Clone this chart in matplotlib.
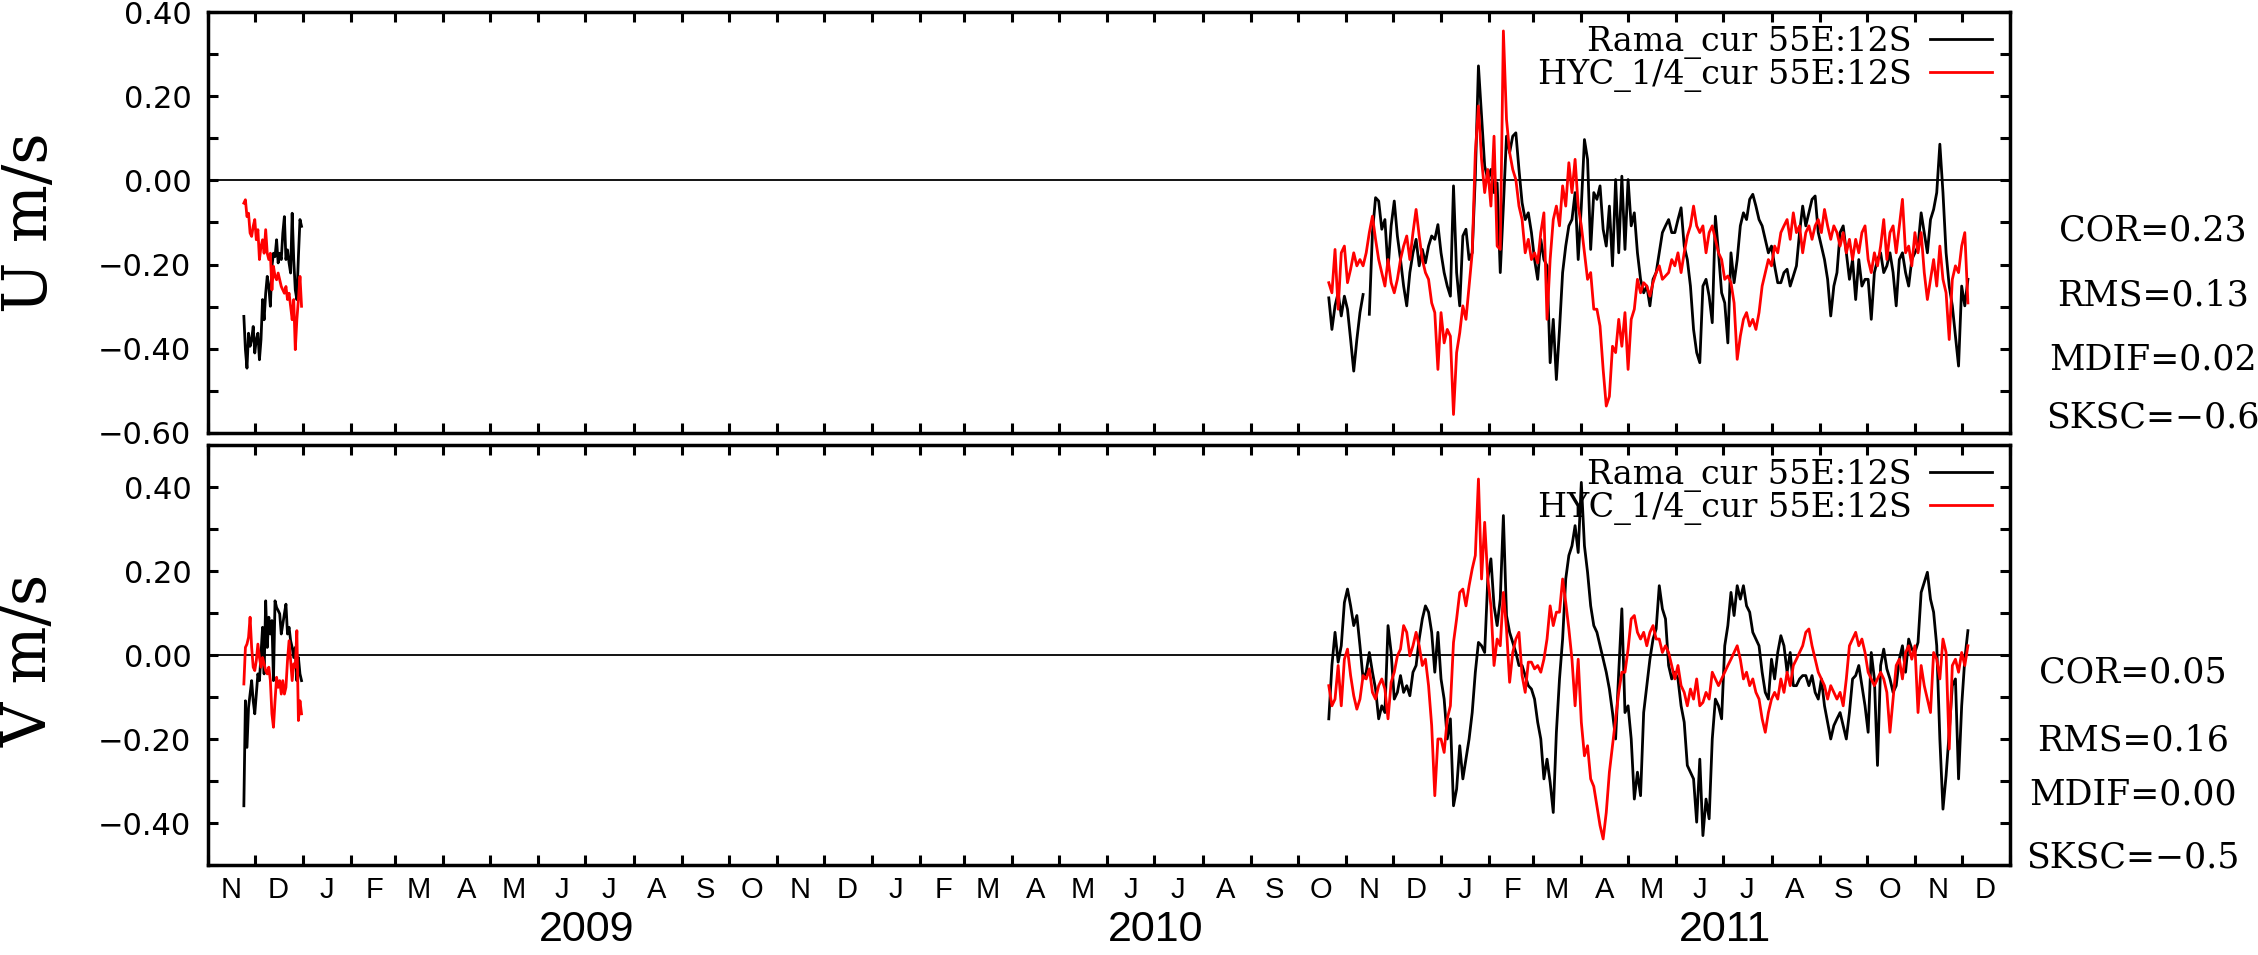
import numpy as np
import matplotlib
matplotlib.use("Agg")
import matplotlib.pyplot as plt
import matplotlib.dates as mdates
from matplotlib.ticker import MultipleLocator, FixedLocator, FuncFormatter

# ---------------- data ----------------
seg1_start = "2008-11-24"   # daily values
seg2_start = "2010-10-21"   # values every 2 days

u_rama_2008 = [-0.323, -0.402, -0.446, -0.363, -0.394, -0.378, -0.347, -0.410, -0.378, -0.363,
               -0.426, -0.378, -0.283, -0.331, -0.268, -0.228, -0.252, -0.299, -0.204, -0.173,
               -0.181, -0.141, -0.196, -0.173, -0.188, -0.125, -0.086, -0.188, -0.165, -0.196,
               -0.220, -0.078, -0.188, -0.260, -0.283, -0.181, -0.093, -0.109]
u_hyc_2008 = [-0.054, -0.046, -0.086, -0.078, -0.125, -0.133, -0.109, -0.093, -0.141, -0.117,
              -0.188, -0.157, -0.141, -0.173, -0.117, -0.173, -0.188, -0.173, -0.260, -0.204,
              -0.228, -0.236, -0.220, -0.236, -0.252, -0.260, -0.268, -0.252, -0.283, -0.268,
              -0.299, -0.331, -0.283, -0.402, -0.331, -0.283, -0.228, -0.299]
v_rama_2008 = [-0.359, -0.109, -0.220, -0.125, -0.093, -0.061, -0.109, -0.140, -0.093, -0.045,
               -0.061, 0.002, 0.066, -0.045, 0.129, 0.018, 0.090, 0.050, 0.082, -0.061,
               0.129, 0.113, 0.106, 0.098, 0.050, 0.074, 0.098, 0.121, 0.050, 0.066,
               0.034, 0.018, -0.006, 0.018, -0.061, -0.006, -0.045, -0.061]
v_hyc_2008 = [-0.069, 0.018, 0.026, 0.042, 0.090, 0.018, -0.029, -0.037, -0.013, 0.026,
              -0.006, -0.029, -0.006, -0.021, -0.037, -0.045, -0.029, -0.061, -0.140, -0.172,
              -0.109, -0.053, -0.077, -0.061, -0.093, -0.061, -0.093, -0.077, -0.013, 0.034,
              -0.013, -0.061, -0.021, -0.029, 0.058, -0.156, -0.109, -0.140]

nan = float("nan")
u_rama_2011 = [
    -0.279, -0.354, -0.298, -0.267, -0.322, -0.275, -0.306, -0.378, -0.453, -0.378,
    -0.314, -0.271, nan, -0.318, -0.124, -0.041, -0.049, -0.116, -0.093, -0.211,
    -0.108, -0.049, -0.132, -0.188, -0.251, -0.298, -0.219, -0.172, -0.140, -0.203,
    -0.164, -0.196, -0.156, -0.132, -0.140, -0.105, -0.172, -0.219, -0.251, -0.275,
    -0.013, -0.219, -0.298, -0.132, -0.116, -0.188, -0.172, 0.010, 0.272, 0.153,
    0.034, 0.002, 0.026, -0.029, -0.006, -0.219, -0.061, 0.105, 0.066, 0.105,
    0.113, 0.026, -0.053, -0.093, -0.077, -0.124, -0.188, -0.235, -0.140, -0.188,
    -0.203, -0.433, -0.330, -0.473, -0.354, -0.219, -0.156, -0.108, -0.093, -0.029,
    -0.188, -0.061, 0.097, 0.050, -0.164, -0.029, -0.045, -0.013, -0.116, -0.156,
    -0.061, -0.203, 0.002, -0.172, 0.010, -0.164, 0.002, -0.108, -0.077, -0.172,
    -0.235, -0.267, -0.251, -0.298, -0.235, -0.219, -0.172, -0.124, -0.108,
    -0.093, -0.124, -0.124, -0.093, -0.065, -0.156, -0.188, -0.251, -0.354, -0.409,
    -0.433, -0.251, -0.235, -0.275, -0.338, -0.085, -0.172, -0.267, -0.291, -0.386,
    -0.172, -0.243, -0.188, -0.108, -0.077, -0.093, -0.045, -0.033, -0.061, -0.093,
    -0.108, -0.140, -0.172, -0.156, -0.203, -0.243, -0.243, -0.219, -0.211, -0.251,
    -0.227, -0.203, -0.124, -0.061, -0.108, -0.077, -0.045, -0.037, -0.124, -0.156,
    -0.188, -0.235, -0.322, -0.251, -0.219, -0.124, -0.108, -0.172, -0.235, -0.188,
    -0.283, -0.188, -0.251, -0.235, -0.235, -0.330, -0.219, -0.188, -0.172, -0.219,
    -0.203, -0.172, -0.219, -0.298, -0.188, -0.172, -0.219, -0.251, -0.188, -0.172,
    -0.156, -0.077, -0.124, -0.172, -0.093, -0.069, -0.029, 0.086, -0.029, -0.172,
    -0.251, -0.298, -0.370, -0.441, -0.251, -0.298, -0.235]
u_hyc_2011 = [
    -0.243, -0.267, -0.164, -0.306, -0.172, -0.156, -0.243, -0.211, -0.172, -0.203,
    -0.188, -0.203, -0.172, -0.124, -0.085, -0.140, -0.188, -0.219, -0.251, -0.188,
    -0.243, -0.267, -0.235, -0.188, -0.156, -0.132, -0.188, -0.124, -0.069, -0.132,
    -0.188, -0.219, -0.235, -0.291, -0.314, -0.449, -0.314, -0.386, -0.354, -0.370,
    -0.556, -0.409, -0.362, -0.298, -0.330, -0.251, -0.172, 0.066, 0.177, 0.050,
    -0.029, 0.026, -0.061, 0.105, -0.156, -0.164, 0.355, 0.145, 0.066, 0.026,
    0.002, -0.061, -0.093, -0.172, -0.140, -0.188, -0.172, -0.196, -0.124, -0.077,
    -0.330, -0.188, -0.093, -0.061, -0.108, -0.013, -0.061, 0.042, -0.029, 0.050,
    -0.061, -0.108, -0.172, -0.235, -0.219, -0.306, -0.306, -0.346, -0.449, -0.536,
    -0.513, -0.394, -0.409, -0.330, -0.394, -0.314, -0.449, -0.330, -0.306, -0.235,
    -0.267, -0.243, -0.251, -0.275, -0.243, -0.219, -0.203, -0.235, -0.227,
    -0.219, -0.188, -0.203, -0.172, -0.219, -0.172, -0.132, -0.108, -0.061, -0.108,
    -0.124, -0.108, -0.172, -0.124, -0.108, -0.140, -0.172, -0.188, -0.235, -0.227,
    -0.243, -0.291, -0.425, -0.370, -0.330, -0.314, -0.346, -0.330, -0.354, -0.314,
    -0.251, -0.219, -0.188, -0.203, -0.156, -0.172, -0.124, -0.108, -0.093, -0.140,
    -0.077, -0.124, -0.108, -0.172, -0.124, -0.108, -0.140, -0.108, -0.093, -0.124,
    -0.069, -0.108, -0.140, -0.108, -0.124, -0.156, -0.124, -0.172, -0.140, -0.188,
    -0.140, -0.172, -0.124, -0.108, -0.188, -0.219, -0.172, -0.203, -0.156, -0.093,
    -0.188, -0.124, -0.108, -0.172, -0.108, -0.045, -0.172, -0.156, -0.203, -0.124,
    -0.172, -0.124, -0.219, -0.283, -0.235, -0.188, -0.251, -0.156, -0.235, -0.267,
    -0.378, -0.235, -0.203, -0.219, -0.156, -0.124, -0.291]
v_rama_2011 = [
    -0.152, -0.025, 0.054, -0.017, 0.022, 0.125, 0.157, 0.117, 0.070, 0.094,
    0.022, -0.057, -0.041, 0.006, -0.041, -0.081, -0.152, -0.121, -0.137, 0.070,
    0.006, -0.105, -0.089, -0.049, -0.089, -0.073, -0.097, -0.041, -0.025, 0.038,
    0.086, 0.117, 0.102, 0.054, -0.041, 0.054, -0.057, -0.105, -0.200, -0.152,
    -0.359, -0.319, -0.216, -0.295, -0.248, -0.200, -0.137, -0.041, 0.030, 0.022,
    0.006, 0.181, 0.229, 0.117, 0.070, 0.133, 0.332, 0.094, 0.054, 0.030,
    0.006, -0.025, -0.025, -0.049, -0.073, -0.081, -0.105, -0.160, -0.200, -0.295,
    -0.248, -0.303, -0.375, -0.184, -0.057, 0.038, 0.181, 0.237, 0.260, 0.308,
    0.244, 0.411, 0.260, 0.197, 0.117, 0.070, 0.054, 0.022, -0.010, -0.041,
    -0.081, -0.137, -0.200, -0.041, 0.110, -0.137, -0.121, -0.200, -0.343, -0.279,
    -0.335, -0.137, -0.073, -0.010, 0.038, 0.062, 0.165, 0.110, 0.086,
    -0.025, -0.057, -0.041, -0.057, -0.121, -0.160, -0.263, -0.279, -0.295, -0.398,
    -0.248, -0.430, -0.343, -0.390, -0.200, -0.105, -0.121, -0.152, 0.022, 0.070,
    0.149, 0.094, 0.165, 0.133, 0.165, 0.117, 0.102, 0.054, 0.038, 0.022,
    -0.041, -0.089, -0.105, -0.010, -0.057, 0.006, 0.046, 0.022, -0.041, 0.006,
    -0.073, -0.073, -0.057, -0.049, -0.049, -0.073, -0.049, -0.089, -0.105, -0.057,
    -0.121, -0.160, -0.200, -0.168, -0.152, -0.137, -0.168, -0.200, -0.137, -0.057,
    -0.049, -0.025, -0.073, -0.121, -0.184, 0.006, -0.057, -0.263, -0.025, 0.014,
    -0.033, -0.057, -0.089, -0.073, -0.010, 0.022, -0.041, 0.038, 0.014, 0.006,
    0.030, 0.149, 0.173, 0.197, 0.133, 0.102, 0.022, -0.200, -0.367, -0.287,
    -0.184, -0.073, -0.057, -0.295, -0.121, -0.010, 0.058]
v_hyc_2011 = [
    -0.073, -0.121, -0.105, -0.025, -0.121, -0.010, 0.014, -0.049, -0.097, -0.129,
    -0.105, -0.049, -0.057, -0.033, -0.089, -0.105, -0.073, -0.057, -0.081, -0.152,
    -0.065, -0.041, -0.002, 0.014, 0.070, 0.054, -0.002, 0.022, 0.054, 0.022,
    -0.025, -0.010, -0.073, -0.168, -0.335, -0.200, -0.200, -0.232, -0.152, -0.121,
    0.030, 0.086, 0.149, 0.157, 0.117, 0.165, 0.205, 0.237, 0.419, 0.181,
    0.316, 0.181, 0.117, -0.025, 0.038, 0.022, 0.149, 0.062, -0.065, 0.006,
    0.038, 0.054, -0.049, -0.089, -0.017, -0.017, -0.033, -0.025, -0.041, -0.010,
    0.038, 0.117, 0.070, 0.102, 0.102, 0.181, 0.125, 0.062, -0.010, -0.121,
    -0.010, -0.160, -0.240, -0.216, -0.295, -0.313, -0.359, -0.406, -0.438, -0.375,
    -0.279, -0.216, -0.152, -0.089, -0.041, -0.041, 0.014, 0.086, 0.094, 0.054,
    0.038, 0.054, 0.022, 0.054, 0.070, 0.038, 0.038, 0.006, 0.022,
    0.006, -0.025, -0.057, -0.025, -0.073, -0.089, -0.121, -0.081, -0.105, -0.057,
    -0.121, -0.113, -0.089, -0.105, -0.041, -0.057, -0.073, -0.057, -0.041, -0.025,
    -0.010, 0.006, 0.022, -0.010, -0.057, -0.041, -0.073, -0.057, -0.089, -0.105,
    -0.152, -0.184, -0.137, -0.105, -0.089, -0.105, -0.057, -0.089, -0.041, -0.073,
    -0.025, -0.010, 0.006, 0.022, 0.054, 0.062, 0.022, -0.010, -0.041, -0.057,
    -0.073, -0.105, -0.073, -0.089, -0.105, -0.089, -0.121, -0.057, 0.022, 0.038,
    0.054, 0.022, 0.038, 0.006, -0.041, -0.057, -0.073, -0.057, -0.041, -0.057,
    -0.089, -0.184, -0.105, -0.025, -0.010, -0.057, 0.006, 0.022, -0.010, 0.022,
    -0.137, -0.025, -0.073, -0.105, -0.137, 0.006, -0.010, -0.057, 0.038, 0.006,
    -0.224, -0.025, -0.010, -0.041, 0.006, -0.025, 0.022]

series_labels = ["Rama_cur 55E:12S", "HYC_1/4_cur 55E:12S"]
ylabels = ["U m/s", "V m/s"]
u_stats = ["COR=0.23", "RMS=0.13", "MDIF=0.02", "SKSC=\u22120.6"]
v_stats = ["COR=0.05", "RMS=0.16", "MDIF=0.00", "SKSC=\u22120.5"]
u_yticks = [-0.6, -0.4, -0.2, 0.0, 0.2, 0.4]
v_yticks = [-0.4, -0.2, 0.0, 0.2, 0.4]
u_ylim = (-0.6, 0.4)
v_ylim = (-0.5, 0.5)
years = [2009, 2010, 2011]
x_start, x_end = "2008-11-01", "2012-01-01"


def dates(start, n, step):
    return np.datetime64(start) + np.arange(n) * np.timedelta64(step, "D")


# ---------------- figure ----------------
W, H = 2258, 955
fig = plt.figure(figsize=(W / 100, H / 100), dpi=100)


def rect(l, t, r, b):
    return [l / W, 1 - b / H, (r - l) / W, (b - t) / H]


ax_u = fig.add_axes(rect(208, 12, 2010, 433))
ax_v = fig.add_axes(rect(208, 445, 2010, 865))

serif = "DejaVu Serif"
narrow = ["Liberation Sans Narrow", "Liberation Sans", "DejaVu Sans"]
LW = 2.0

panels = [
    (ax_u, u_rama_2008, u_hyc_2008, u_rama_2011, u_hyc_2011, u_ylim, u_yticks),
    (ax_v, v_rama_2008, v_hyc_2008, v_rama_2011, v_hyc_2011, v_ylim, v_yticks),
]
for ax, o1, m1, o2, m2, ylim, yt in panels:
    ax.plot(dates(seg1_start, len(o1), 1), o1, color="black", lw=LW, label=series_labels[0])
    ax.plot(dates(seg1_start, len(m1), 1), m1, color="red", lw=LW, label=series_labels[1])
    ax.plot(dates(seg2_start, len(o2), 2), o2, color="black", lw=LW)
    ax.plot(dates(seg2_start, len(m2), 2), m2, color="red", lw=LW)
    ax.axhline(0, color="black", lw=1.3, zorder=0)
    ax.set_xlim(np.datetime64(x_start), np.datetime64(x_end))
    ax.set_ylim(*ylim)
    ax.yaxis.set_major_locator(FixedLocator(yt))
    ax.yaxis.set_minor_locator(MultipleLocator(0.1))
    ax.yaxis.set_major_formatter(FuncFormatter(lambda v, p: f"{v:.2f}".replace("-", "\u2212")))
    ax.xaxis.set_major_locator(mdates.MonthLocator())
    ax.xaxis.set_major_formatter(FuncFormatter(lambda v, p: ""))
    ax.tick_params(which="both", direction="in", top=True, right=True,
                   length=7.5, width=2.2)
    ax.tick_params(axis="y", which="major", labelsize=22, pad=12)
    for s in ax.spines.values():
        s.set_linewidth(2.5)
    ax.legend(loc="upper right", markerfirst=False, frameon=False,
              prop={"family": serif, "size": 24}, handlelength=1.85,
              handletextpad=0.55, labelspacing=0.0, borderpad=0,
              borderaxespad=0, bbox_to_anchor=(1 - 18 / 1802, 1 - 14 / 421))

# month letters on the bottom panel
ax_v.xaxis.set_minor_locator(mdates.MonthLocator(bymonthday=16))
ax_v.xaxis.set_minor_formatter(
    FuncFormatter(lambda v, p: mdates.num2date(v).strftime("%b")[0]))
ax_v.tick_params(axis="x", which="minor", length=0, labelsize=21, pad=8)
for lab in ax_v.xaxis.get_minorticklabels():
    lab.set_family(narrow)

for yr in years:
    ax_v.text(np.datetime64(f"{yr}-07-02"), -(930 - 865) / 420, str(yr),
              transform=ax_v.get_xaxis_transform(), ha="center", va="center",
              fontsize=31, family=narrow)

# y labels
fig.text(30 / W, 1 - 223 / H, ylabels[0], rotation=90, ha="center", va="center",
         fontsize=44, family=serif)
fig.text(30 / W, 1 - 660 / H, ylabels[1], rotation=90, ha="center", va="center",
         fontsize=44, family=serif)

# statistics
for txt, yb in zip(u_stats, [240, 305, 369, 427]):
    fig.text(2153 / W, 1 - yb / H, txt, ha="center", va="baseline", fontsize=25, family=serif)
for txt, yb in zip(v_stats, [682, 750, 804, 867]):
    fig.text(2133 / W, 1 - yb / H, txt, ha="center", va="baseline", fontsize=25, family=serif)

fig.savefig("out.png", dpi=100)
